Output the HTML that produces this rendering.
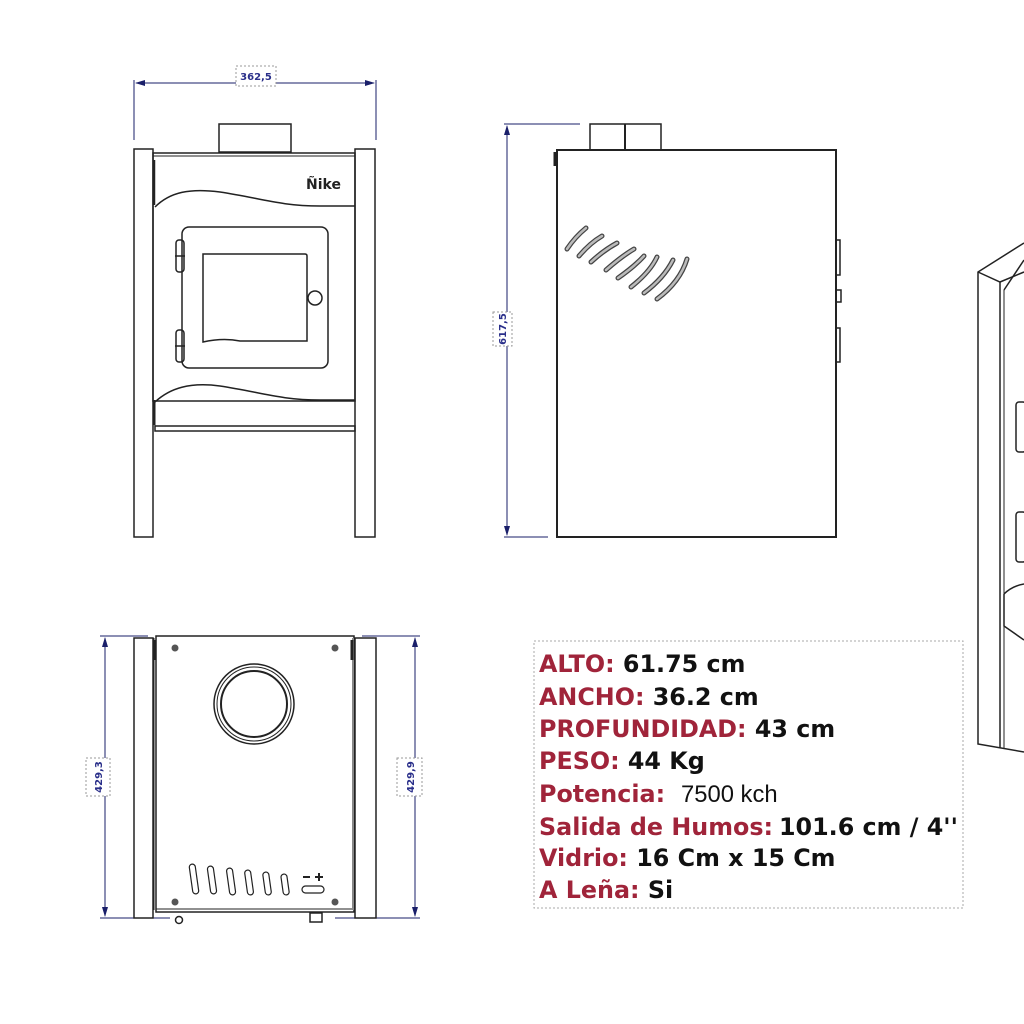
<!DOCTYPE html>
<html><head><meta charset="utf-8"><style>
html,body{margin:0;padding:0;background:#fff;}
svg{display:block;}
</style></head><body>
<svg width="1024" height="1024" viewBox="0 0 1024 1024" xmlns="http://www.w3.org/2000/svg">
<defs>
<marker id="ar" markerWidth="10" markerHeight="6" refX="9" refY="3" orient="auto-start-reverse" markerUnits="userSpaceOnUse"><path d="M0,0 L10,3 L0,6 Z" fill="#1a1f6a"/></marker>
</defs>
<rect width="1024" height="1024" fill="#fff"/>
<g fill="none" stroke="#222" stroke-width="1.5">
<!-- FRONT VIEW -->
<line x1="134" y1="80" x2="134" y2="140" stroke="#1a1f6a" stroke-width="1"/>
<line x1="376" y1="80" x2="376" y2="140" stroke="#1a1f6a" stroke-width="1"/>
<line x1="136" y1="83" x2="374" y2="83" stroke="#1a1f6a" stroke-width="1" marker-end="url(#ar)" marker-start="url(#ar)"/>
<rect x="236" y="66" width="40" height="20" stroke="#999" stroke-width="1" stroke-dasharray="2,2" fill="#fff"/>
<rect x="219" y="124" width="72" height="28"/>
<rect x="134" y="149" width="19" height="388"/>
<rect x="355" y="149" width="20" height="388"/>
<rect x="153" y="153" width="202" height="248"/>
<line x1="153" y1="156" x2="355" y2="156" stroke-width="1"/>
<line x1="155" y1="400" x2="155" y2="430" stroke-width="1"/>
<rect x="155" y="426" width="200" height="5"/>
<path d="M155,207 C170,192 190,188 220,192 C260,198 280,206 320,206 L355,206"/>
<path d="M155,402 C170,388 190,382 220,386 C260,392 280,400 320,400 L355,400"/>
<rect x="182" y="227" width="146" height="141" rx="7"/>
<path d="M203,254 H305 Q307,254 307,256 V341 H240 C225,338 212,340 203,342 Z"/>
<circle cx="315" cy="298" r="7"/>
<rect x="176" y="240" width="8" height="32" rx="3"/>
<line x1="175" y1="256" x2="185" y2="256"/>
<rect x="176" y="330" width="8" height="32" rx="3"/>
<line x1="175" y1="346" x2="185" y2="346"/>
<line x1="154" y1="160" x2="154" y2="205" stroke-width="2.5"/>
<line x1="154" y1="400" x2="154" y2="425" stroke-width="2.5"/>
<!-- SIDE VIEW -->
<line x1="504" y1="124" x2="580" y2="124" stroke="#1a1f6a" stroke-width="1"/>
<line x1="504" y1="537" x2="548" y2="537" stroke="#1a1f6a" stroke-width="1"/>
<line x1="507" y1="126" x2="507" y2="535" stroke="#1a1f6a" stroke-width="1" marker-end="url(#ar)" marker-start="url(#ar)"/>
<rect x="493" y="312" width="19" height="34" stroke="#999" stroke-width="1" stroke-dasharray="2,2" fill="#fff"/>
<rect x="590" y="124" width="71" height="26"/>
<line x1="625" y1="124" x2="625" y2="150" stroke-width="2"/>
<rect x="557" y="150" width="279" height="387" stroke-width="2"/>
<line x1="555" y1="152" x2="555" y2="166" stroke-width="3"/>
<rect x="836" y="240" width="4" height="35"/>
<rect x="836" y="290" width="5" height="12"/>
<rect x="836" y="328" width="4" height="34"/>
<g stroke="#444" stroke-width="5" stroke-linecap="round">
<path d="M567,249 Q575,237 586,228"/>
<path d="M579,256 Q590,243 602,236"/>
<path d="M591,262 Q604,250 617,243"/>
<path d="M606,270 Q622,256 634,249"/>
<path d="M618,278 Q635,266 644,256"/>
<path d="M631,287 Q650,272 657,257"/>
<path d="M644,293 Q664,278 673,260"/>
<path d="M657,299 Q680,282 687,259"/>
</g>
<g stroke="#bbb" stroke-width="2.5" stroke-linecap="round">
<path d="M567,249 Q575,237 586,228"/>
<path d="M579,256 Q590,243 602,236"/>
<path d="M591,262 Q604,250 617,243"/>
<path d="M606,270 Q622,256 634,249"/>
<path d="M618,278 Q635,266 644,256"/>
<path d="M631,287 Q650,272 657,257"/>
<path d="M644,293 Q664,278 673,260"/>
<path d="M657,299 Q680,282 687,259"/>
</g>
<!-- TOP VIEW -->
<line x1="100" y1="636" x2="148" y2="636" stroke="#1a1f6a" stroke-width="1"/>
<line x1="100" y1="918" x2="170" y2="918" stroke="#1a1f6a" stroke-width="1"/>
<line x1="105" y1="638" x2="105" y2="916" stroke="#1a1f6a" stroke-width="1" marker-end="url(#ar)" marker-start="url(#ar)"/>
<rect x="86" y="758" width="24" height="38" stroke="#999" stroke-width="1" stroke-dasharray="2,2" fill="#fff"/>
<line x1="362" y1="636" x2="420" y2="636" stroke="#1a1f6a" stroke-width="1"/>
<line x1="335" y1="918" x2="420" y2="918" stroke="#1a1f6a" stroke-width="1"/>
<line x1="415" y1="638" x2="415" y2="916" stroke="#1a1f6a" stroke-width="1" marker-end="url(#ar)" marker-start="url(#ar)"/>
<rect x="397" y="758" width="25" height="38" stroke="#999" stroke-width="1" stroke-dasharray="2,2" fill="#fff"/>
<rect x="134" y="638" width="19" height="280"/>
<rect x="355" y="638" width="21" height="280"/>
<rect x="156" y="636" width="198" height="276"/>
<line x1="156" y1="909" x2="354" y2="909" stroke-width="1"/>
<line x1="154" y1="638" x2="154" y2="910" stroke-width="1"/>
<line x1="353" y1="638" x2="353" y2="910" stroke="#888" stroke-width="2"/>
<line x1="155" y1="640" x2="155" y2="660" stroke-width="3"/>
<line x1="352" y1="640" x2="352" y2="660" stroke-width="3"/>
<circle cx="254" cy="704" r="40"/>
<circle cx="254" cy="704" r="37" stroke-width="1"/>
<circle cx="254" cy="704" r="33" stroke-width="2"/>
<circle cx="179" cy="920" r="3.5"/>
<rect x="310" y="913" width="12" height="9"/>
<g stroke-width="1.2">
<rect x="191" y="864" width="6" height="30" rx="3" transform="rotate(-8 194 879)"/>
<rect x="209" y="866" width="6" height="28" rx="3" transform="rotate(-8 212 880)"/>
<rect x="228" y="868" width="6" height="27" rx="3" transform="rotate(-8 231 881)"/>
<rect x="246" y="870" width="6" height="25" rx="3" transform="rotate(-8 249 882)"/>
<rect x="264" y="872" width="6" height="23" rx="3" transform="rotate(-8 267 883)"/>
<rect x="282" y="874" width="6" height="21" rx="3" transform="rotate(-8 285 884)"/>
<line x1="303" y1="877" x2="310" y2="877" stroke-width="2"/>
<line x1="315" y1="877" x2="323" y2="877" stroke-width="2"/>
<line x1="319" y1="873" x2="319" y2="881" stroke-width="2"/>
<rect x="302" y="886" width="22" height="7" rx="3.5"/>
</g>
</g>
<g fill="#555">
<circle cx="175" cy="648" r="3.5"/><circle cx="335" cy="648" r="3.5"/>
<circle cx="175" cy="902" r="3.5"/><circle cx="335" cy="902" r="3.5"/>
</g>
<!-- ISO partial right -->
<g fill="none" stroke="#222" stroke-width="1.5">
<path d="M1024,243 L978,272 L978,744 L1024,752"/>
<path d="M978,272 L1000,282 L1024,272"/>
<line x1="1000" y1="282" x2="1000" y2="748"/>
<line x1="1004" y1="290" x2="1004" y2="748" stroke-width="1"/>
<path d="M1024,260 L1004,290"/>
<rect x="1016" y="402" width="10" height="50" rx="3"/>
<rect x="1016" y="512" width="10" height="50" rx="3"/>
<path d="M1004,594 Q1012,586 1024,584"/>
<path d="M1004,594 L1004,626 L1024,640"/>
</g>
<g font-family="'DejaVu Sans','Liberation Sans',sans-serif" font-size="10" font-weight="bold" fill="#2a2f8a" text-anchor="middle">
<text x="256" y="80">362,5</text>
<text transform="translate(506,329) rotate(-90)">617,5</text>
<text transform="translate(102,777) rotate(-90)">429,3</text>
<text transform="translate(414,777) rotate(-90)">429,9</text>
</g>
<text x="306" y="189" font-family="'DejaVu Sans',sans-serif" font-size="14" font-weight="bold" fill="#222">Ñike</text>
<!-- SPEC BOX -->
<rect x="534" y="641" width="429" height="267" fill="none" stroke="#aaa" stroke-width="1" stroke-dasharray="2,2"/>
<g font-family="'DejaVu Sans','Liberation Sans',sans-serif" font-size="23.8" font-weight="bold" fill="#111">
<text x="539" y="672"><tspan fill="#a0243a">ALTO:</tspan> 61.75 cm</text>
<text x="539" y="705"><tspan fill="#a0243a">ANCHO:</tspan> 36.2 cm</text>
<text x="539" y="737"><tspan fill="#a0243a">PROFUNDIDAD:</tspan> 43 cm</text>
<text x="539" y="769"><tspan fill="#a0243a">PESO:</tspan> 44 Kg</text>
<text x="539" y="802"><tspan fill="#a0243a">Potencia:</tspan><tspan font-weight="normal" font-family="'Liberation Sans',sans-serif" x="681">7500 kch</tspan></text>
<text x="539" y="835"><tspan fill="#a0243a">Salida de Humos:</tspan><tspan x="779">101.6 cm / 4''</tspan></text>
<text x="539" y="866"><tspan fill="#a0243a">Vidrio:</tspan> 16 Cm x 15 Cm</text>
<text x="539" y="898"><tspan fill="#a0243a">A Leña:</tspan> Si</text>
</g>
</svg>
</body></html>
